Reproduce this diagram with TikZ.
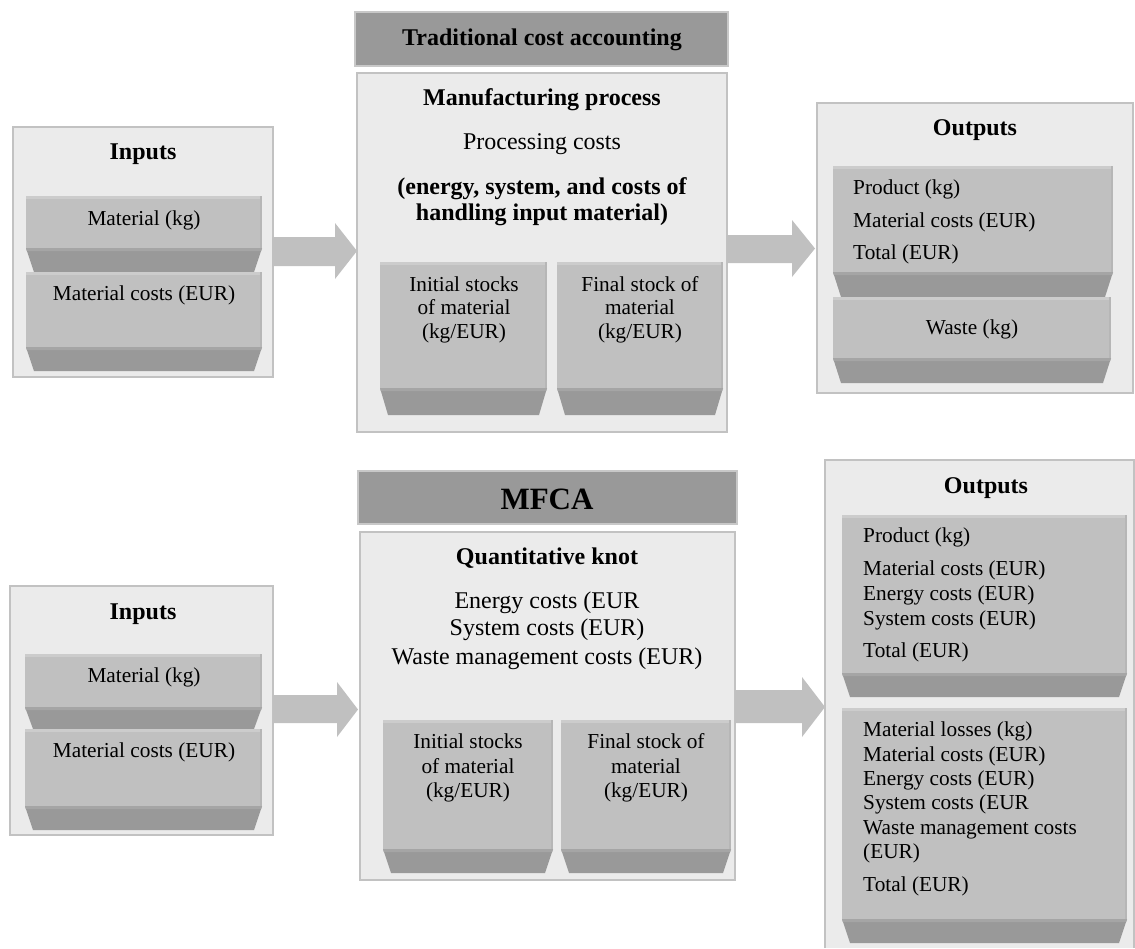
\documentclass[tikz,border=0pt]{standalone}
\usepackage{fontspec}
\setmainfont{Liberation Serif}
\definecolor{boxfill}{HTML}{EBEBEB}
\definecolor{boxline}{HTML}{C2C2C2}
\definecolor{ttlfill}{HTML}{999999}
\definecolor{ttlline}{HTML}{C8C8C8}
\definecolor{bandc}{HTML}{C0C0C0}
\definecolor{bandtop}{HTML}{CCCCCC}
\definecolor{bandside}{HTML}{B6B6B6}
\definecolor{trapc}{HTML}{999999}
\definecolor{traptop}{HTML}{A5A5A5}
\definecolor{arrowc}{HTML}{C0C0C0}
\tikzset{
  bigbox/.style={draw=boxline, fill=boxfill, line width=1.6pt, inner sep=0pt, outer sep=0pt},
  ttlbox/.style={draw=ttlline, fill=ttlfill, line width=1.6pt, inner sep=0pt, outer sep=0pt},
  hd/.style={font=\fontsize{24}{28}\selectfont\bfseries, text height=16.6pt, text depth=4.3pt, inner sep=0pt},
  bigt/.style={font=\fontsize{31}{36}\selectfont\bfseries, text height=21.4pt, text depth=5.6pt, inner sep=0pt},
  mid/.style={font=\fontsize{24}{28}\selectfont, text height=16.6pt, text depth=4.3pt, inner sep=0pt},
  sm/.style={font=\fontsize{21.3}{24}\selectfont, text height=14.7pt, text depth=3.8pt, inner sep=0pt},
  sml/.style={sm, anchor=west}
}
\newcommand{\mybox}[6]{\node[#6, minimum width={#4-#2}, minimum height={#5-#3}] (#1) at ({(#2+#4)/2},{(#3+#5)/2}) {};}
\newcommand{\myband}[5]{%
  \fill[bandc] (#1,#3) rectangle (#2,#4);
  \fill[bandtop] (#1,#3) rectangle (#2,{#3+2.5});
  \fill[bandside] ({#2-2},#3) rectangle (#2,#4);
  \fill[trapc] (#1,#4) -- (#2,#4) -- ({#2-8},#5) -- ({#1+8},#5) -- cycle;
  \fill[traptop] (#1,#4) -- (#2,#4) -- ({#2-0.8},{#4+3}) -- ({#1+0.8},{#4+3}) -- cycle;}
% shaft start x, head base x, tip x, shaft y1, shaft y2, head y1, head y2
\newcommand{\blockarrow}[7]{%
  \fill[arrowc] (#1,#4) -- (#2,#4) -- (#2,#6) -- (#3,{(#6+#7)/2}) -- (#2,#7) -- (#2,#5) -- (#1,#5) -- cycle;}
\begin{document}
\begin{tikzpicture}[x=1pt,y=-1pt]
\useasboundingbox (0,0) rectangle (1135,948);
\fill[white] (0,0) rectangle (1135,948);

% ================= TOP =================
\mybox{inT}{13}{127}{273}{377}{bigbox}
\node[hd] (inTh) at (143,153) {Inputs};
\myband{26}{262}{196}{248}{272}
\node[sm] (inTa) at (144,220) {Material (kg)};
\myband{26}{262}{272}{347}{371}
\node[sm] (inTb) at (144,295) {Material costs (EUR)};

\blockarrow{272}{335}{357}{237}{266}{223}{279}

\mybox{ttlT}{355}{12}{728}{66}{ttlbox}
\node[hd] (ttlTt) at (542,39) {Traditional cost accounting};
\mybox{mpT}{357}{73}{727}{432}{bigbox}
\node[hd] (mpTh) at (542,99) {Manufacturing process};
\node[mid] (mpTa) at (542,143) {Processing costs};
\node[hd] (mpTb) at (542,188) {(energy, system, and costs of};
\node[hd] (mpTc) at (542,214) {handling input material)};
\myband{380}{547}{262}{388}{415}
\node[sm] (isTa) at (464,286) {Initial stocks};
\node[sm] (isTb) at (464,309) {of material};
\node[sm] (isTc) at (464,333) {(kg/EUR)};
\myband{557}{723}{262}{388}{415}
\node[sm] (fsTa) at (640,286) {Final stock of};
\node[sm] (fsTb) at (640,309) {material};
\node[sm] (fsTc) at (640,333) {(kg/EUR)};

\blockarrow{727}{792}{815}{235}{263}{220}{277}

\mybox{outT}{817}{103}{1133}{393}{bigbox}
\node[hd] (outTh) at (975,129) {Outputs};
\myband{833}{1113}{166}{272}{297}
\node[sml] (outTa) at (853,189) {Product (kg)};
\node[sml] (outTb) at (853,222) {Material costs (EUR)};
\node[sml] (outTc) at (853,254) {Total (EUR)};
\myband{833}{1111}{297}{358}{383}
\node[sm] (outTd) at (972,329) {Waste (kg)};

% ================= BOTTOM =================
\mybox{inB}{10}{586}{273}{835}{bigbox}
\node[hd] (inBh) at (143,613) {Inputs};
\myband{25}{262}{654}{707}{729}
\node[sm] (inBa) at (144,677) {Material (kg)};
\myband{25}{262}{729}{806}{830}
\node[sm] (inBb) at (144,752) {Material costs (EUR)};

\blockarrow{273}{337}{358}{695}{723}{682}{737}

\mybox{ttlB}{358}{471}{737}{524}{ttlbox}
\node[bigt] (ttlBt) at (547,502) {MFCA};
\mybox{mfB}{360}{532}{735}{880}{bigbox}
\node[hd] (mfBh) at (547,558) {Quantitative knot};
\node[mid] (mfBa) at (547,602) {Energy costs (EUR};
\node[mid] (mfBb) at (547,629) {System costs (EUR)};
\node[mid] (mfBc) at (547,658) {Waste management costs (EUR)};
\myband{383}{553}{720}{849}{873}
\node[sm] (isBa) at (468,743) {Initial stocks};
\node[sm] (isBb) at (468,768) {of material};
\node[sm] (isBc) at (468,792) {(kg/EUR)};
\myband{561}{731}{720}{849}{873}
\node[sm] (fsBa) at (646,743) {Final stock of};
\node[sm] (fsBb) at (646,768) {material};
\node[sm] (fsBc) at (646,792) {(kg/EUR)};

\blockarrow{735}{802}{825}{690}{723}{677}{737}

\mybox{outB}{825}{460}{1134}{948}{fill=boxfill, draw=none, inner sep=0pt, outer sep=0pt}
\draw[boxline, line width=1.6pt] (outB.south west) -- (outB.north west) -- (outB.north east) -- (outB.south east);
\node[hd] (outBh) at (986,487) {Outputs};
\myband{842}{1127}{515}{673}{697}
\node[sml] (outBa) at (863,537) {Product (kg)};
\node[sml] (outBb) at (863,570) {Material costs (EUR)};
\node[sml] (outBc) at (863,595) {Energy costs (EUR)};
\node[sml] (outBd) at (863,620) {System costs (EUR)};
\node[sml] (outBe) at (863,652) {Total (EUR)};
\myband{842}{1127}{708}{919}{943}
\node[sml] (outBf) at (863,731) {Material losses (kg)};
\node[sml] (outBg) at (863,756) {Material costs (EUR)};
\node[sml] (outBi) at (863,780) {Energy costs (EUR)};
\node[sml] (outBj) at (863,804) {System costs (EUR};
\node[sml] (outBk) at (863,829) {Waste management costs};
\node[sml] (outBl) at (863,853) {(EUR)};
\node[sml] (outBm) at (863,886) {Total (EUR)};
\end{tikzpicture}
\end{document}
